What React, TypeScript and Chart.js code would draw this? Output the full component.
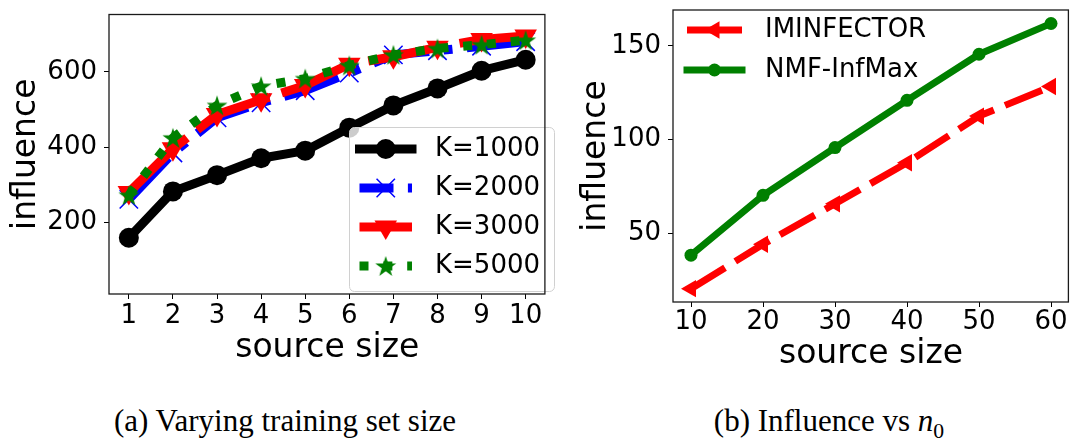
import React, { useEffect, useRef } from 'react';
import { Chart, registerables } from 'chart.js';

Chart.register(...registerables);

// ---------- data ----------
const sourceSizesA = [1, 2, 3, 4, 5, 6, 7, 8, 9, 10];
const k1000 = [160, 283, 326, 371, 391, 452, 511, 556, 603, 632];
const k2000 = [262, 385, 478, 518, 550, 597, 645, 656, 668, 680];
const k3000 = [280, 396, 487, 526, 564, 620, 640, 665, 686, 695];
const k5000 = [273, 425, 511, 562, 582, 617, 645, 662, 672, 684];
const yTicksA = [200, 400, 600];
const legendA = ['K=1000', 'K=2000', 'K=3000', 'K=5000'];

const sourceSizesB = [10, 20, 30, 40, 50, 60];
const iminfector = [20.5, 44.2, 65.8, 87.7, 112.6, 128.4];
const nmfInfMax = [38.4, 70.3, 95.8, 121, 145.6, 162];
const yTicksB = [50, 100, 150];
const legendB = ['IMINFECTOR', 'NMF-InfMax'];

const captionA = 'Varying training set size';
const captionB = 'Influence vs';

// ---------- styles ----------
const FONT = "'DejaVu Sans', sans-serif";

type Marker = 'circle' | 'crossRot' | 'triDown' | 'triLeft' | 'star';
interface SeriesStyle {
  color: string;
  lw: number;
  dash: number[];
  legendDash: number[];
  legendDashOffset: number;
  cap: CanvasLineCap;
  marker: Marker;
  r: number;
}

const stylesA: SeriesStyle[] = [
  { color: '#000000', lw: 9, dash: [], legendDash: [], legendDashOffset: 0, cap: 'square', marker: 'circle', r: 10 },
  { color: '#0000ff', lw: 9, dash: [57.6, 14.4, 9, 14.4], legendDash: [57.6, 14.4, 9, 14.4], legendDashOffset: 23.6, cap: 'butt', marker: 'crossRot', r: 13 },
  { color: '#ff0000', lw: 9, dash: [80, 13], legendDash: [], legendDashOffset: 0, cap: 'butt', marker: 'triDown', r: 13 },
  { color: '#008000', lw: 9, dash: [9, 14.85], legendDash: [9, 14.85], legendDashOffset: 0, cap: 'butt', marker: 'star', r: 11 },
];
const stylesB: SeriesStyle[] = [
  { color: '#ff0000', lw: 7, dash: [40, 12], legendDash: [], legendDashOffset: 0, cap: 'butt', marker: 'triLeft', r: 10 },
  { color: '#008000', lw: 7, dash: [], legendDash: [], legendDashOffset: 0, cap: 'square', marker: 'circle', r: 6.5 },
];

function starCanvas(color: string, outer: number): HTMLCanvasElement {
  const size = Math.ceil(outer * 2 + 4);
  const c = document.createElement('canvas');
  c.width = size;
  c.height = size;
  const ctx = c.getContext('2d')!;
  const cx = size / 2;
  const cy = size / 2 + outer * 0.09;
  const inner = outer * 0.382;
  ctx.beginPath();
  for (let i = 0; i < 10; i++) {
    const rr = i % 2 === 0 ? outer : inner;
    const a = -Math.PI / 2 + (i * Math.PI) / 5;
    const x = cx + rr * Math.cos(a);
    const y = cy + rr * Math.sin(a);
    if (i === 0) ctx.moveTo(x, y);
    else ctx.lineTo(x, y);
  }
  ctx.closePath();
  ctx.fillStyle = color;
  ctx.fill();
  return c;
}

function drawMarker(ctx: CanvasRenderingContext2D, st: SeriesStyle, x: number, y: number, star?: HTMLCanvasElement) {
  ctx.save();
  ctx.setLineDash([]);
  ctx.fillStyle = st.color;
  ctx.strokeStyle = st.color;
  const r = st.r;
  if (st.marker === 'circle') {
    ctx.beginPath();
    ctx.arc(x, y, r, 0, Math.PI * 2);
    ctx.fill();
  } else if (st.marker === 'crossRot') {
    const d = r * Math.SQRT1_2;
    ctx.lineWidth = 1.5;
    ctx.beginPath();
    ctx.moveTo(x - d, y - d);
    ctx.lineTo(x + d, y + d);
    ctx.moveTo(x - d, y + d);
    ctx.lineTo(x + d, y - d);
    ctx.stroke();
  } else if (st.marker === 'triDown' || st.marker === 'triLeft') {
    const rot = st.marker === 'triDown' ? Math.PI : (3 * Math.PI) / 2;
    ctx.beginPath();
    for (let i = 0; i < 3; i++) {
      const a = rot + (i * 2 * Math.PI) / 3;
      const px = x + Math.sin(a) * r;
      const py = y - Math.cos(a) * r;
      if (i === 0) ctx.moveTo(px, py);
      else ctx.lineTo(px, py);
    }
    ctx.closePath();
    ctx.fill();
  } else if (st.marker === 'star' && star) {
    ctx.drawImage(star, x - star.width / 2, y - star.height / 2);
  }
  ctx.restore();
}

interface LegendSpec {
  labels: string[];
  styles: SeriesStyle[];
  rows: number[];
  x0: number;
  x1: number;
  textX: number;
  fontSize: number;
  box?: { x: number; y: number; w: number; h: number };
}

function makeDatasets(xs: number[], series: number[][], styles: SeriesStyle[], labels: string[], stars: (HTMLCanvasElement | undefined)[]) {
  return series.map((vals, i) => {
    const st = styles[i];
    let pointStyle: any = 'circle';
    let rotation = 0;
    if (st.marker === 'crossRot') pointStyle = 'crossRot';
    if (st.marker === 'triDown') { pointStyle = 'triangle'; rotation = 180; }
    if (st.marker === 'triLeft') { pointStyle = 'triangle'; rotation = 270; }
    if (st.marker === 'star') pointStyle = stars[i];
    return {
      label: labels[i],
      data: xs.map((x, j) => ({ x, y: vals[j] })),
      borderColor: st.color,
      backgroundColor: st.color,
      borderWidth: st.lw,
      borderDash: st.dash,
      borderCapStyle: st.cap,
      borderJoinStyle: 'round',
      pointStyle,
      pointRotation: rotation,
      pointRadius: st.r,
      pointHoverRadius: st.r,
      pointBackgroundColor: st.color,
      pointBorderColor: st.color,
      pointBorderWidth: st.marker === 'crossRot' ? 1.5 : 0,
      tension: 0,
      fill: false,
      clip: false,
      order: series.length - i,
    };
  });
}

interface PanelSpec {
  xs: number[];
  series: number[][];
  styles: SeriesStyle[];
  labels: string[];
  xMin: number; xMax: number; yMin: number; yMax: number;
  xTicks: number[]; yTicks: number[];
  yWidth: number; xHeight: number; padTop: number; padRight: number;
  xTickPad: number; yTickPad: number; yTitlePad: number; xTitlePad: number;
  legend: LegendSpec;
}

function buildChart(canvas: HTMLCanvasElement, p: PanelSpec): Chart {
  const stars = p.styles.map((s) => (s.marker === 'star' ? starCanvas(s.color, s.r) : undefined));
  const legendPlugin = {
    id: 'frameAndLegend',
    afterDraw(chart: any) {
      const ctx: CanvasRenderingContext2D = chart.ctx;
      const a = chart.chartArea;
      const L = p.legend;
      ctx.save();
      if (L.box) {
        const b = L.box;
        ctx.beginPath();
        (ctx as any).roundRect(b.x + 0.5, b.y + 0.5, b.w, b.h, 5);
        ctx.fillStyle = 'rgba(255,255,255,0.8)';
        ctx.fill();
        ctx.strokeStyle = '#d0d0d0';
        ctx.lineWidth = 1;
        ctx.stroke();
      }
      L.labels.forEach((lab, i) => {
        const st = L.styles[i];
        const y = L.rows[i];
        ctx.save();
        ctx.strokeStyle = st.color;
        ctx.lineWidth = st.lw;
        ctx.lineCap = st.cap;
        ctx.setLineDash(st.legendDash);
        ctx.lineDashOffset = st.legendDashOffset;
        ctx.beginPath();
        ctx.moveTo(L.x0, y);
        ctx.lineTo(L.x1, y);
        ctx.stroke();
        ctx.restore();
        drawMarker(ctx, st, (L.x0 + L.x1) / 2, y, stars[i]);
        ctx.fillStyle = '#000';
        ctx.font = `${L.fontSize}px ${FONT}`;
        ctx.textBaseline = 'middle';
        ctx.textAlign = 'left';
        ctx.fillText(lab, L.textX, y);
      });
      ctx.strokeStyle = '#1a1a1a';
      ctx.lineWidth = 1.3;
      ctx.setLineDash([]);
      ctx.strokeRect(a.left, a.top, a.right - a.left - 0.6, a.bottom - a.top);
      ctx.restore();
    },
  };

  const tickFont = { family: FONT, size: 26 };
  const titleFont = { family: FONT, size: 33 };

  return new Chart(canvas, {
    type: 'line',
    data: { datasets: makeDatasets(p.xs, p.series, p.styles, p.labels, stars) as any },
    options: {
      animation: false,
      responsive: false,
      devicePixelRatio: 1,
      events: [],
      layout: { padding: { top: p.padTop, right: p.padRight, left: 0, bottom: 0 } },
      plugins: { legend: { display: false }, tooltip: { enabled: false } },
      scales: {
        x: {
          type: 'linear',
          min: p.xMin,
          max: p.xMax,
          afterBuildTicks: (s: any) => { s.ticks = p.xTicks.map((v) => ({ value: v })); },
          afterFit: (s: any) => {
            s.height = p.xHeight;
            s.paddingLeft = 0; s.paddingRight = 0; s.paddingTop = 0; s.paddingBottom = 0;
          },
          grid: { drawOnChartArea: false, drawTicks: true, tickLength: 5, tickColor: '#000', tickWidth: 1 },
          border: { display: false },
          ticks: { font: tickFont, color: '#000', padding: p.xTickPad, maxRotation: 0, autoSkip: false, callback: (v: any) => String(v) },
          title: { display: true, text: 'source size', font: titleFont, color: '#000', padding: { top: 0, bottom: p.xTitlePad } },
        },
        y: {
          type: 'linear',
          min: p.yMin,
          max: p.yMax,
          afterBuildTicks: (s: any) => { s.ticks = p.yTicks.map((v) => ({ value: v })); },
          afterFit: (s: any) => {
            s.width = p.yWidth;
            s.paddingLeft = 0; s.paddingRight = 0; s.paddingTop = 0; s.paddingBottom = 0;
          },
          grid: { drawOnChartArea: false, drawTicks: true, tickLength: 5, tickColor: '#000', tickWidth: 1 },
          border: { display: false },
          ticks: { font: tickFont, color: '#000', padding: p.yTickPad, autoSkip: false, callback: (v: any) => String(v) },
          title: { display: true, text: 'influence', font: titleFont, color: '#000', padding: { top: p.yTitlePad, bottom: 0 } },
        },
      },
    } as any,
    plugins: [legendPlugin],
  });
}

const panelA: PanelSpec = {
  xs: sourceSizesA,
  series: [k1000, k2000, k3000, k5000],
  styles: stylesA,
  labels: legendA,
  xMin: 0.55, xMax: 10.45, yMin: 11, yMax: 752,
  xTicks: sourceSizesA, yTicks: yTicksA,
  yWidth: 109, xHeight: 86, padTop: 5, padRight: 4,
  xTickPad: 2, yTickPad: 7, yTitlePad: 7, xTitlePad: 12,
  legend: {
    labels: legendA, styles: stylesA, rows: [149, 188, 227, 266],
    x0: 359.5, x1: 412, textX: 435, fontSize: 26,
    box: { x: 349, y: 127, w: 205, h: 164 },
  },
};

const panelB: PanelSpec = {
  xs: sourceSizesB,
  series: [iminfector, nmfInfMax],
  styles: stylesB,
  labels: legendB,
  xMin: 7.5, xMax: 62.5, yMin: 13.4, yMax: 169.2,
  xTicks: sourceSizesB, yTicks: yTicksB,
  yWidth: 113, xHeight: 78, padTop: 5, padRight: 0,
  xTickPad: 0, yTickPad: 7, yTitlePad: 17, xTitlePad: 6,
  legend: {
    labels: legendB, styles: stylesB, rows: [30, 70],
    x0: 127, x1: 182, textX: 205, fontSize: 26,
  },
};

function Panel({ spec, left, width }: { spec: PanelSpec; left: number; width: number }) {
  const ref = useRef<HTMLCanvasElement>(null);
  useEffect(() => {
    const chart = buildChart(ref.current!, spec);
    return () => chart.destroy();
  }, [spec]);
  return (
    <canvas
      ref={ref}
      width={width}
      height={380}
      style={{ position: 'absolute', left, top: 0, width, height: 380 }}
    />
  );
}

const captionStyle: React.CSSProperties = {
  position: 'absolute',
  top: 405,
  width: 600,
  textAlign: 'center',
  fontFamily: "'Liberation Serif', serif",
  fontSize: 31,
  lineHeight: '31px',
  color: '#000',
  whiteSpace: 'nowrap',
};

export default function App() {
  return (
    <div style={{ position: 'absolute', left: 0, top: 0, width: 1079, height: 439, background: '#fff', overflow: 'hidden' }}>
      <Panel spec={panelA} left={0} width={560} />
      <Panel spec={panelB} left={560} width={519} />
      <div style={{ ...captionStyle, left: 285 - 300 }}>(a) {captionA}</div>
      <div style={{ ...captionStyle, left: 829 - 300 }}>
        (b) {captionB} <i>n</i>
        <span style={{ fontSize: '0.7em', position: 'relative', top: '0.3em' }}>0</span>
      </div>
    </div>
  );
}
